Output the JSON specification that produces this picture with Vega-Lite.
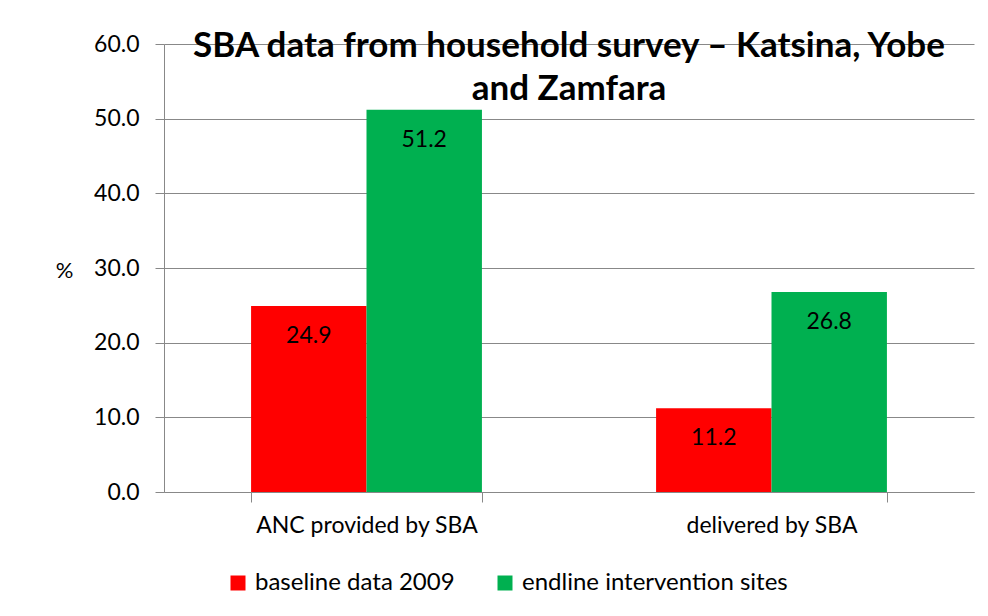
{
  "$schema": "https://vega.github.io/schema/vega-lite/v6.json",
  "width": 810,
  "height": 448,
  "autosize": {"type": "none"},
  "padding": {"left": 164, "top": 44, "right": 14, "bottom": 124},
  "background": "white",
  "title": {
    "text": ["SBA data from household survey – Katsina, Yobe", "and Zamfara"],
    "font": "Lato",
    "fontSize": 35,
    "fontWeight": "bold",
    "color": "black",
    "anchor": "middle",
    "frame": "group",
    "baseline": "top",
    "lineHeight": 43,
    "offset": -74
  },
  "data": {
    "values": [
      {"category": "ANC provided by SBA", "series": "baseline data 2009", "value": 24.9},
      {"category": "ANC provided by SBA", "series": "endline intervention sites", "value": 51.2},
      {"category": "delivered by SBA", "series": "baseline data 2009", "value": 11.2},
      {"category": "delivered by SBA", "series": "endline intervention sites", "value": 26.8}
    ]
  },
  "encoding": {
    "x": {
      "field": "category",
      "type": "nominal",
      "sort": null,
      "scale": {"paddingInner": 0.43, "paddingOuter": 0.215},
      "axis": {
        "title": null,
        "labelAngle": 0,
        "labelFont": "Lato",
        "labelFontSize": 23,
        "labelLimit": 0,
        "labelColor": "black",
        "labelPadding": 12,
        "domainColor": "#888888",
        "tickColor": "#888888",
        "tickBand": "extent",
        "tickSize": 10,
        "grid": false
      }
    },
    "xOffset": {"field": "series", "type": "nominal", "scale": {"paddingInner": 0, "paddingOuter": 0}},
    "y": {
      "field": "value",
      "type": "quantitative",
      "scale": {"domain": [0, 60], "nice": false},
      "axis": {
        "values": [0, 10, 20, 30, 40, 50, 60],
        "format": ".1f",
        "title": "%",
        "titleAngle": 0,
        "titleFont": "Lato",
        "titleFontSize": 22,
        "titleFontWeight": "normal",
        "titleColor": "black",
        "titleX": -100,
        "titleY": 238,
        "labelFont": "Lato",
        "labelFontSize": 23,
        "labelColor": "black",
        "labelPadding": 16,
        "domainColor": "#888888",
        "tickColor": "#888888",
        "tickSize": 9,
        "gridColor": "#888888",
        "gridWidth": 1
      }
    }
  },
  "layer": [
    {
      "mark": {"type": "bar"},
      "encoding": {
        "color": {
          "field": "series",
          "type": "nominal",
          "scale": {"domain": ["baseline data 2009", "endline intervention sites"], "range": ["#ff0000", "#00b050"]},
          "legend": {
            "title": null,
            "orient": "none",
            "direction": "horizontal",
            "legendX": 62,
            "legendY": 527,
            "symbolType": "square",
            "symbolSize": 225,
            "symbolStrokeWidth": 0,
            "symbolOpacity": 1,
            "labelFont": "Lato",
            "labelFontSize": 24,
            "labelLimit": 0,
            "labelColor": "black",
            "labelOffset": 5,
            "columnPadding": 38
          }
        }
      }
    },
    {
      "mark": {"type": "text", "baseline": "middle", "dy": 30, "font": "Lato", "fontSize": 23, "color": "black"},
      "encoding": {
        "text": {"field": "value", "type": "quantitative", "format": ".1f"}
      }
    }
  ],
  "config": {
    "view": {"stroke": null},
    "axis": {"gridColor": "#888888"}
  }
}
